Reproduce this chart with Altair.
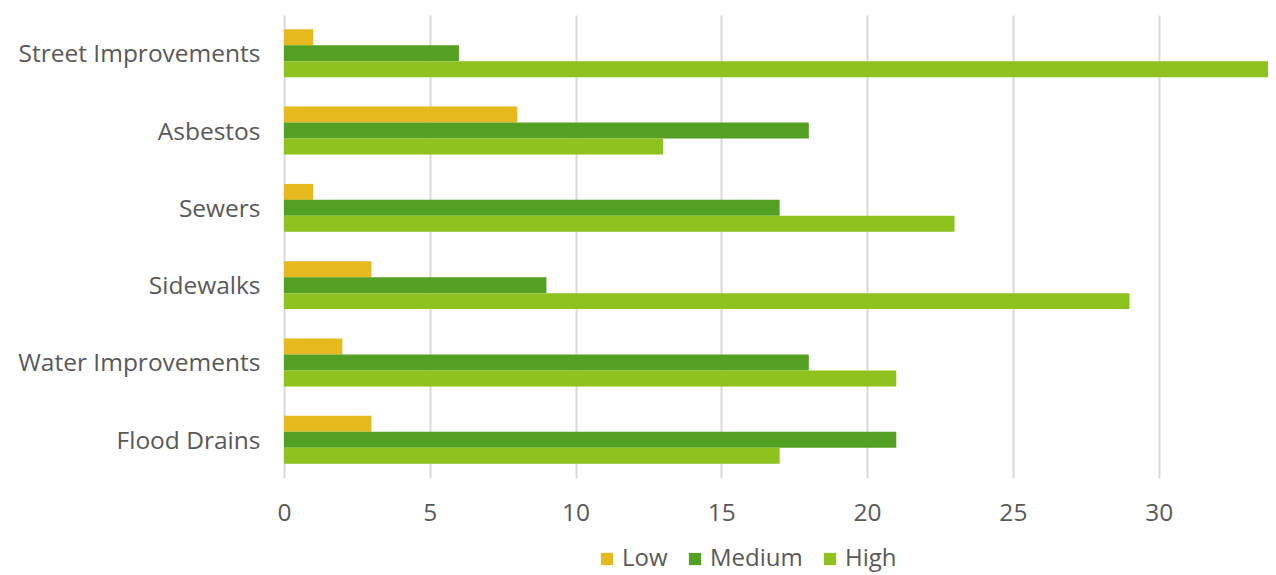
import altair as alt
import pandas as pd

categories = ["Street Improvements", "Asbestos", "Sewers", "Sidewalks",
              "Water Improvements", "Flood Drains"]
series = ["Low", "Medium", "High"]
low = [1, 8, 1, 3, 2, 3]
medium = [6, 18, 17, 9, 18, 21]
high = [34, 13, 23, 29, 21, 17]
colors = ["#E6B91E", "#54A022", "#8DC21F"]
x_ticks = [0, 5, 10, 15, 20, 25, 30]

rows = []
for i, c in enumerate(categories):
    for s, vals in zip(series, [low, medium, high]):
        rows.append({"category": c, "series": s, "value": vals[i]})
df = pd.DataFrame(rows)

FONT = "Open Sans"
GRAY = "#595959"
FS = 24.5

chart = alt.Chart(df).mark_bar(clip=True).encode(
    y=alt.Y("category:N", sort=categories, title=None,
            scale=alt.Scale(paddingInner=0.38, paddingOuter=0.185),
            axis=alt.Axis(labelFont=FONT, labelFontSize=FS, labelColor=GRAY,
                          labelPadding=24, labelOffset=2, ticks=False,
                          domain=False, labelLimit=400)),
    yOffset=alt.YOffset("series:N", sort=series,
                        scale=alt.Scale(paddingInner=0, paddingOuter=0)),
    x=alt.X("value:Q", title=None,
            scale=alt.Scale(domain=[0, 33.75], nice=False, zero=True),
            axis=alt.Axis(values=x_ticks, labelFont=FONT, labelFontSize=FS,
                          labelColor=GRAY, labelPadding=23, ticks=False,
                          labelFlush=False,
                          domain=False, grid=True, gridColor="#D9D9D9",
                          gridWidth=2)),
    color=alt.Color("series:N", sort=series,
                    scale=alt.Scale(domain=series, range=colors),
                    legend=alt.Legend(title=None, orient="none",
                                      direction="horizontal",
                                      legendX=311, legendY=532,
                                      symbolType="square", symbolSize=150,
                                      symbolStrokeWidth=0,
                                      labelFont=FONT, labelFontSize=24,
                                      labelColor=GRAY, columnPadding=15,
                                      labelOffset=3)),
).properties(
    width=984, height=463,
    autosize=alt.AutoSizeParams(type="none"),
    padding={"left": 276, "top": 7, "right": 0, "bottom": 97},
).configure_view(stroke=None)

chart.save("out.html", embed_options={"renderer": "svg", "actions": False})
